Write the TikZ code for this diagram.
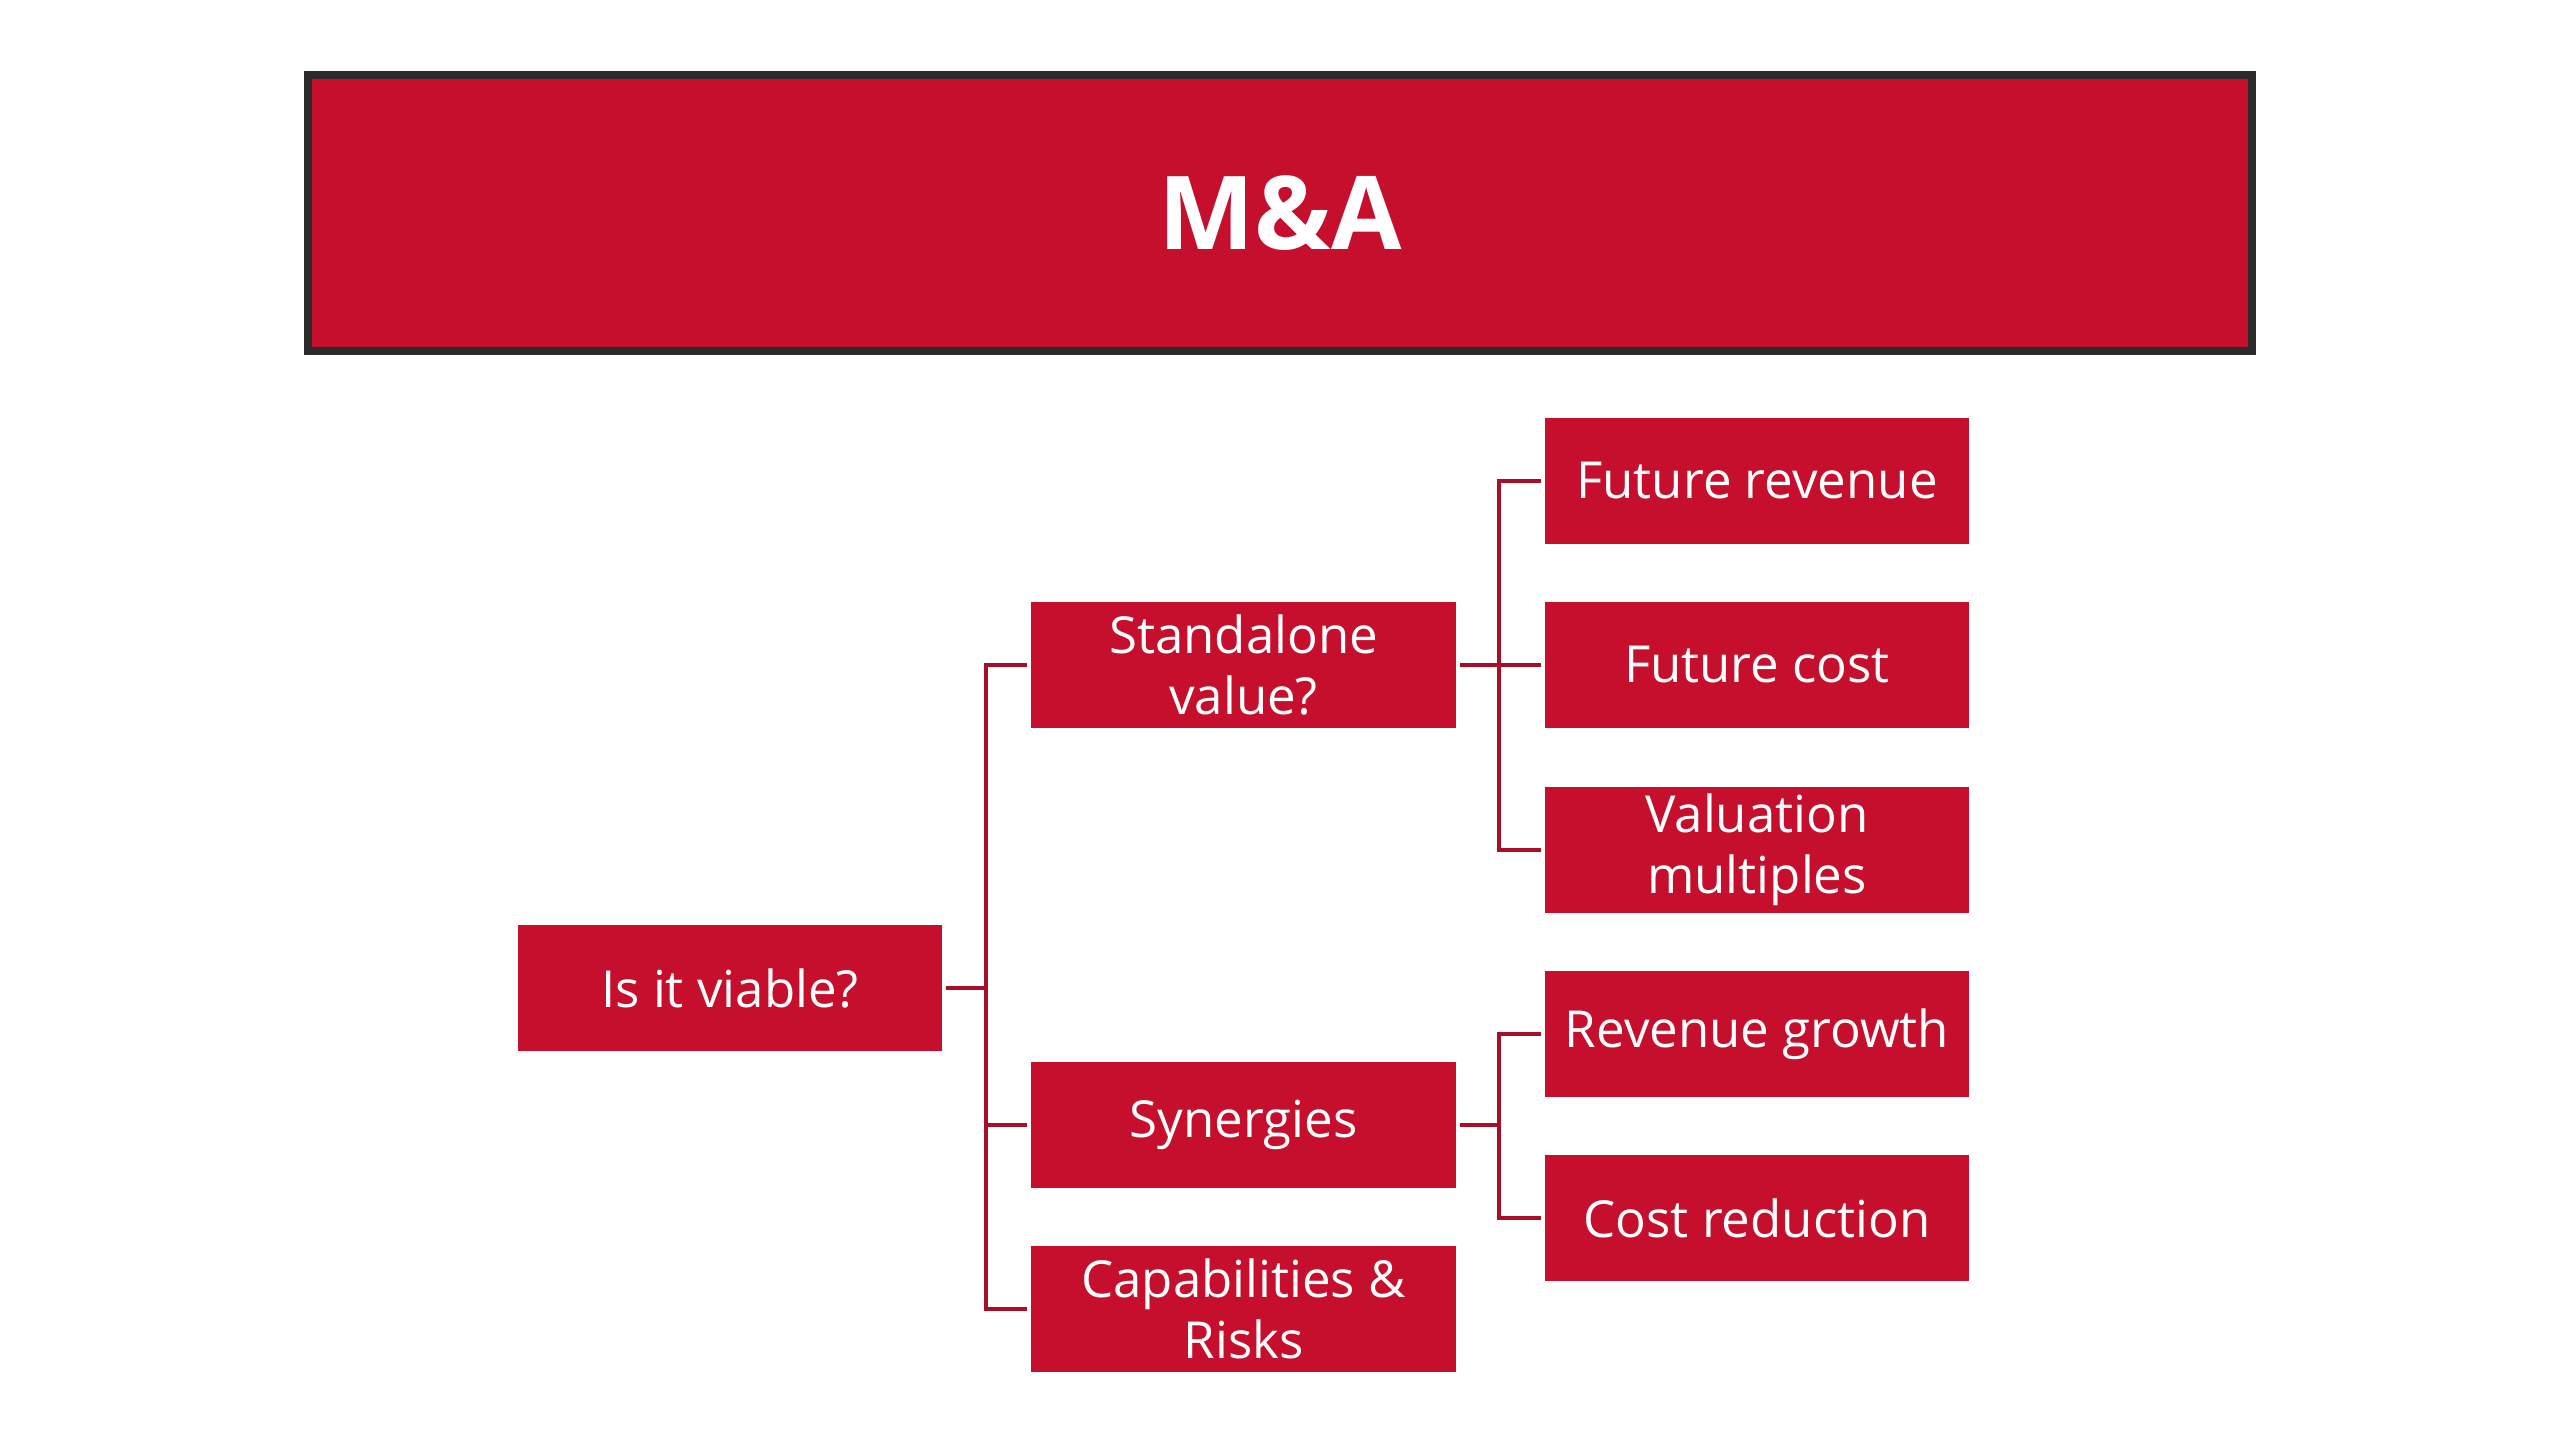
\documentclass[tikz,border=0pt]{standalone}
\usepackage{fontspec}
\setmainfont{Open Sans}
\definecolor{mared}{HTML}{C50F2C}
\definecolor{malin}{HTML}{A80E28}
\definecolor{maborder}{HTML}{2B2B2B}
\begin{document}
\begin{tikzpicture}[x=0.01cm,y=-0.01cm,
  box/.style={fill=mared, draw=none, minimum width=4.24cm, minimum height=1.25cm,
    inner sep=0pt, align=center, text=white, font=\fontsize{14.5}{17.3}\selectfont},
  conn/.style={draw=malin, line width=1.3pt},
  gapl/.style={shorten <=1pt},
  gapr/.style={shorten >=1pt},
  titlebox/.style={fill=mared, draw=maborder, line width=2.3pt, minimum width=19.42cm,
    minimum height=2.76cm, inner sep=0pt, text=white, font=\fontsize{29}{35}\selectfont\bfseries}]
\fill[white] (0,0) rectangle (2560,1440);
\useasboundingbox (0,0) rectangle (2560,1440);

\node[titlebox] (title) at (1280,213) {M\&A};

\node[box] (via) at (730,988) {Is it viable?};
\node[box] (sv)  at (1243.5,665) {Standalone\\value?};
\node[box] (syn) at (1243.5,1125) {Synergies};
\node[box] (cap) at (1243.5,1309) {Capabilities \&\\Risks};
\node[box] (fr)  at (1757,481) {Future revenue};
\node[box] (fc)  at (1757,665) {Future cost};
\node[box] (vm)  at (1757,850) {Valuation\\multiples};
\node[box] (rg)  at (1757,1034) {Revenue growth};
\node[box] (cr)  at (1757,1218) {Cost reduction};

\coordinate (t1) at (986,988);
\coordinate (t2) at (1499,665);
\coordinate (t3) at (1499,1125);

\draw[conn,gapl] (via.east) -- (t1);
\draw[conn,gapl,gapr] (sv.west) -- (sv.west -| t1) -- (cap.west -| t1) -- (cap.west);
\draw[conn,gapr] (syn.west -| t1) -- (syn.west);

\draw[conn,gapl,gapr] (sv.east) -- (fc.west);
\draw[conn,gapl,gapr] (fr.west) -- (fr.west -| t2) -- (vm.west -| t2) -- (vm.west);

\draw[conn,gapl] (syn.east) -- (t3);
\draw[conn,gapl,gapr] (rg.west) -- (rg.west -| t3) -- (cr.west -| t3) -- (cr.west);
\end{tikzpicture}
\end{document}
